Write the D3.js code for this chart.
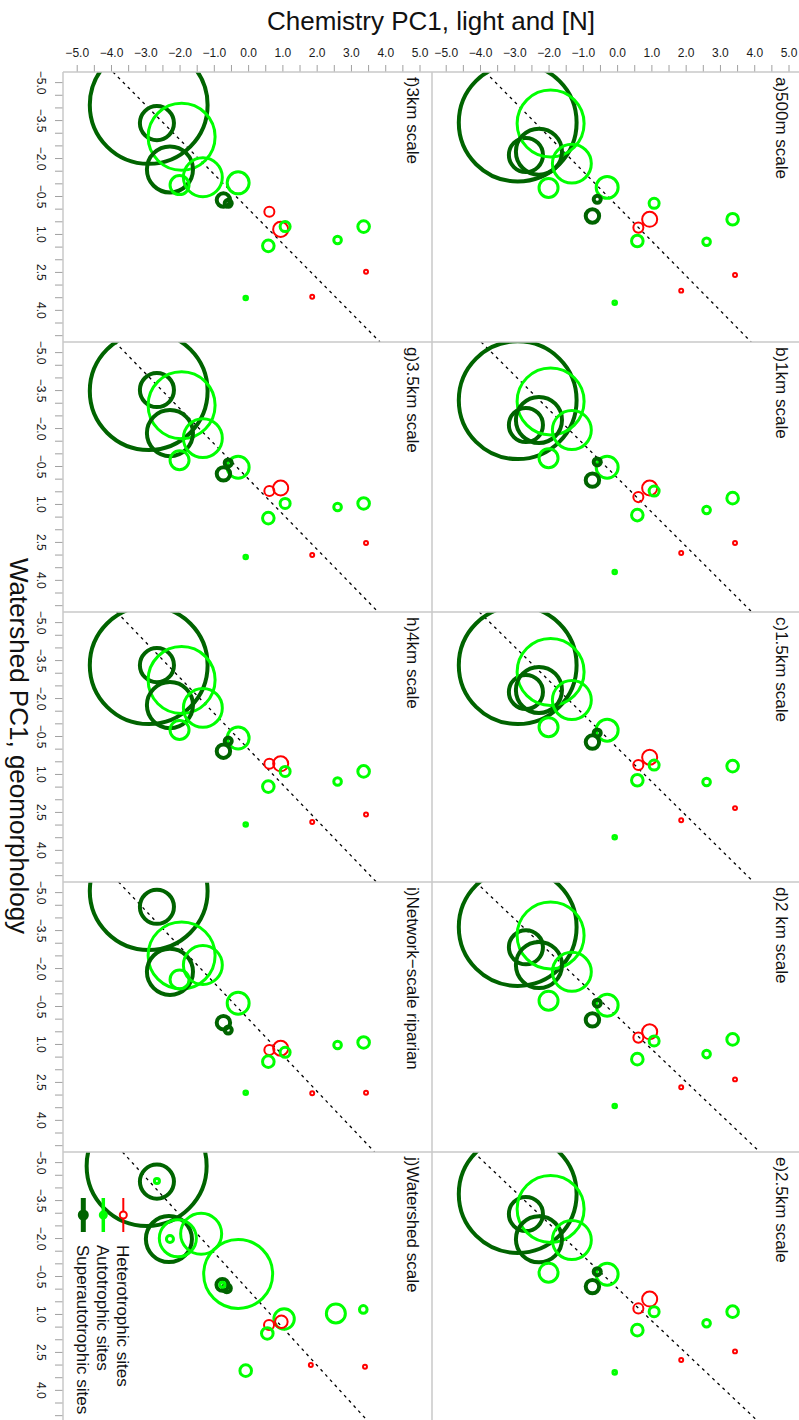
<!DOCTYPE html>
<html>
<head>
<meta charset="utf-8">
<script src="https://cdn.jsdelivr.net/npm/d3@7"></script>
<style>
  body { margin: 0; background: #fff; }
  text { font-family: "Liberation Sans", Arial, sans-serif; }
</style>
</head>
<body>
<svg id="chart" width="799" height="1420"></svg>
<script>
// panel titles: right column a-e, left column f-j
const panelLabels = ["a)500m scale", "b)1km scale", "c)1.5km scale", "d)2 km scale", "e)2.5km scale",
  "f)3km scale", "g)3.5km scale", "h)4km scale", "i)Network\u2212scale riparian", "j)Watershed scale"];

// site chemistry PC1 (same for panels a-i), class and bubble size
const chem = [-2.9, -2.66, -1.94, -2.28, -1.32, -2.0, -0.29, -0.72, -0.58, 0.95, 0.62, 1.08, 0.59, 3.37, 2.61, 3.44, 1.87, -0.07];
const siteClass = ["S", "S", "A", "S", "A", "A", "A", "S", "S", "H", "H", "A", "A", "A", "A", "H", "H", "A"];
const siteSize = [98, 8.2, 31.7, 15, 10.7, 2.55, 3.4, 1.27, 0.35, 1.6, 0.71, 0.71, 0.95, 0.95, 0.41, 0.11, 0.11, 0.09];

// watershed PC1 per site at each scale
const wsA = [-3.4, -2.12, -3.36, -2.25, -1.78, -0.82, -0.84, 0.29, -0.37, 0.42, 0.75, -0.21, 1.28, 0.42, 1.31, 2.62, 3.24, 3.72];
const wsB = [-3.1, -2.12, -3.05, -2.32, -1.92, -0.81, -0.45, 0.06, -0.66, 0.37, 0.73, 0.49, 1.44, 0.77, 1.24, 2.54, 2.94, 3.69];
const wsC = [-3.3, -2.24, -3.03, -2.32, -1.92, -0.85, -0.73, -0.26, -0.62, 0.34, 0.65, 0.65, 1.25, 0.69, 1.32, 2.35, 2.83, 3.5];
const wsD = [-3.62, -2.82, -3.29, -2.12, -1.85, -0.71, -0.53, 0.05, -0.61, 0.52, 0.75, 0.88, 1.6, 0.82, 1.4, 2.4, 2.71, 3.45];
const wsE = [-3.74, -2.95, -3.15, -1.95, -1.92, -0.63, -0.57, -0.08, -0.67, 0.41, 0.78, 0.91, 1.64, 0.91, 1.37, 2.48, 2.82, 3.31];
const wsF = [-4.1, -3.38, -2.84, -1.55, -1.24, -0.93, -1.02, -0.34, -0.21, 0.82, 0.12, 0.71, 1.47, 0.71, 1.24, 2.49, 3.48, 3.53];
const wsG = [-3.46, -3.5, -2.9, -1.8, -1.6, -0.73, -0.45, -0.19, -0.62, 0.37, 0.49, 0.98, 1.56, 0.98, 1.12, 2.54, 3.02, 3.1];
const wsH = [-3.3, -3.3, -2.71, -1.72, -1.61, -0.74, -0.42, 0.1, -0.3, 0.6, 0.6, 0.9, 1.5, 0.9, 1.3, 2.6, 2.9, 3.0];
const wsI = [-5.04, -4.42, -2.5, -1.85, -2.12, -1.55, -0.61, 0.16, 0.45, 1.17, 1.24, 1.33, 1.7, 0.94, 1.04, 2.93, 2.95, 2.93];

// watershed scale panel j has its own sizes and classes
const chemJ = [-2.96, -2.66, -2.66, -2.31, -2.05, -2.28, -1.37, -0.29, -0.75, -0.62, -0.75, 1.05, 0.97, 0.61, 0.56, 2.56, 3.36, -0.07, 1.83, 3.41];
const wsJ = [-4.85, -4.23, -4.25, -1.96, -1.99, -1.96, -2.17, -0.58, -0.15, -0.02, -0.15, 1.2, 1.31, 1.44, 1.77, 0.98, 0.82, 3.24, 3.02, 3.09];
const sizeJ = [101.7, 8.2, 0.18, 15, 9.7, 0.35, 11.9, 33.6, 1.0, 0.45, 0.18, 2.94, 1.12, 0.71, 0.95, 2.55, 0.41, 0.95, 0.11, 0.11];
const classJ = ["S", "S", "A", "S", "A", "A", "A", "A", "S", "S", "A", "A", "H", "H", "A", "A", "A", "A", "H", "H"];

// dashed fit line per panel: chem = slope * ws + icpt
const slope = [0.727, 0.74, 0.75, 0.777, 0.78, 0.73, 0.72, 0.71, 0.70, 0.673];
const icpt = [0.08, 0.03, 0.03, 0.07, 0.02, 0.0, 0.0, 0.0, 0.0, -0.03];

const xTicks = d3.range(-5, 5.001, 0.5);
const yTicks = d3.range(-5, 5.001, 0.5);

const legendItems = [
  {label: "Heterotrophic sites", cls: "H"},
  {label: "Autotrophic sites", cls: "A"},
  {label: "Superautotrophic sites", cls: "S"}
];

const wsAll = [wsA, wsB, wsC, wsD, wsE, wsF, wsG, wsH, wsI];
const panels = wsAll.map(ws => chem.map((c, i) => ({chem: c, ws: ws[i], size: siteSize[i], cls: siteClass[i]})));
panels.push(chemJ.map((c, i) => ({chem: c, ws: wsJ[i], size: sizeJ[i], cls: classJ[i]})));

const colors = {H: "#ff0000", A: "#00ff00", S: "#006400"};
const widths = {H: 2, A: 3, S: 4};

const colX = [63, 432], plotW = 368.5;
const rowY = [72, 342, 612, 882, 1152], plotH = 270;
const xDomain = [-5.4, 5.35], yDomain = [-5.4, 5.27];

const svg = d3.select("#chart");
const rScale = d3.scaleSqrt().domain([0, 100]).range([0, 59.5]);
const fmt = d3.format(".1f");
const defs = svg.append("defs");

panels.forEach((pts, k) => {
  const col = k < 5 ? 1 : 0, row = k % 5;
  const x = d3.scaleLinear().domain(xDomain).range([colX[col], colX[col] + plotW]);
  const y = d3.scaleLinear().domain(yDomain).range([rowY[row], rowY[row] + plotH]);

  defs.append("clipPath").attr("id", "clip" + k).append("rect")
    .attr("x", colX[col]).attr("y", rowY[row]).attr("width", plotW).attr("height", plotH);

  const g = svg.append("g");
  const inner = g.append("g").attr("clip-path", "url(#clip" + k + ")");

  inner.append("path")
    .datum(yDomain)
    .attr("d", d3.line().x(w => x(slope[k] * w + icpt[k])).y(w => y(w)))
    .attr("fill", "none")
    .attr("stroke", "#000")
    .attr("stroke-width", 1.3)
    .attr("stroke-dasharray", "3,4");

  inner.selectAll("circle").data(pts).join("circle")
    .attr("cx", d => x(d.chem))
    .attr("cy", d => y(d.ws))
    .attr("r", d => rScale(d.size))
    .attr("fill", "none")
    .attr("stroke", d => colors[d.cls])
    .attr("stroke-width", d => widths[d.cls]);

  g.append("text")
    .attr("transform", `translate(${colX[col] + 344},${rowY[row] + 5}) rotate(90)`)
    .attr("font-size", 17)
    .attr("fill", "#111")
    .text(panelLabels[k]);

  if (row === 0) {
    const ax = g.append("g").attr("transform", `translate(0,${rowY[0]})`)
      .call(d3.axisTop(x).tickValues(xTicks).tickSize(7).tickPadding(8)
        .tickFormat(v => Number.isInteger(v) ? fmt(v) : ""));
    ax.select(".domain").remove();
    ax.selectAll("line").attr("stroke", "#a0a0a0");
    ax.selectAll("text").attr("font-size", 12).attr("fill", "#1a1a1a")
      .attr("font-family", "'Liberation Sans', Arial, sans-serif");
  }

  if (col === 0) {
    const labeled = v => Math.abs((v + 5) / 1.5 - Math.round((v + 5) / 1.5)) < 1e-9;
    const ay = g.append("g").attr("transform", `translate(${colX[0]},0)`)
      .call(d3.axisLeft(y).tickValues(yTicks).tickSize(8)
        .tickFormat(v => labeled(v) ? fmt(v) : ""));
    ay.select(".domain").remove();
    ay.selectAll("line").attr("stroke", "#a0a0a0");
    ay.selectAll("text")
      .attr("x", null).attr("dy", null)
      .attr("text-anchor", "middle")
      .attr("transform", "translate(-25.7,0) rotate(90)")
      .attr("font-size", 12).attr("fill", "#1a1a1a")
      .attr("font-family", "'Liberation Sans', Arial, sans-serif");
  }
});

// panel frame lines
const frame = svg.append("g").attr("stroke", "#c8c8c8").attr("stroke-width", 1.5);
frame.append("line").attr("x1", colX[0]).attr("x2", colX[0]).attr("y1", rowY[0]).attr("y2", 1420);
frame.append("line").attr("x1", colX[1]).attr("x2", colX[1]).attr("y1", rowY[0]).attr("y2", 1420);
frame.selectAll(".h").data(rowY).join("line")
  .attr("x1", colX[0]).attr("x2", 799).attr("y1", d => d).attr("y2", d => d);

// legend in panel j
const legX = [123.3, 103.3, 83.3];
const leg = svg.append("g");
legendItems.forEach((it, i) => {
  leg.append("line").attr("x1", legX[i]).attr("x2", legX[i]).attr("y1", 1198).attr("y2", 1232)
    .attr("stroke", colors[it.cls]).attr("stroke-width", [2, 3.5, 5][i]);
  leg.append("circle").attr("cx", legX[i]).attr("cy", 1215).attr("r", [3.5, 3.5, 4.5][i])
    .attr("fill", it.cls === "H" ? "#fff" : colors[it.cls])
    .attr("stroke", colors[it.cls]).attr("stroke-width", 2);
  leg.append("text")
    .attr("transform", `translate(${legX[i] - 6},1245) rotate(90)`)
    .attr("font-size", 17).attr("fill", "#111")
    .text(it.label);
});

// axis titles
svg.append("text").attr("x", 431).attr("y", 29.5).attr("text-anchor", "middle")
  .attr("font-size", 26).attr("fill", "#111").text("Chemistry PC1, light and [N]");
svg.append("text").attr("transform", "translate(10,746) rotate(90)").attr("text-anchor", "middle")
  .attr("font-size", 26).attr("fill", "#111").text("Watershed PC1, geomorphology");
</script>
</body>
</html>
